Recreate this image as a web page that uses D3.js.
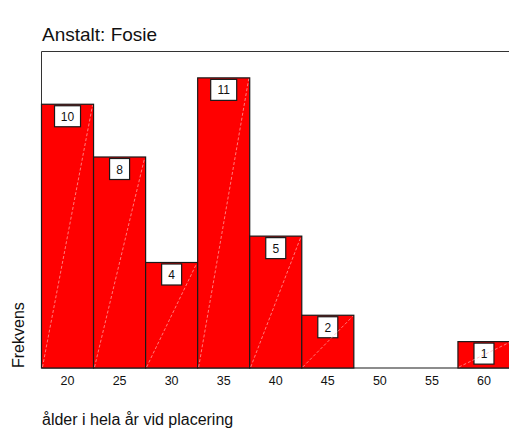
<!DOCTYPE html>
<html>
<head>
<meta charset="utf-8">
<script src="https://cdn.jsdelivr.net/npm/d3@7"></script>
<style>
    body { margin: 0; background: #fff; }
    text { font-family: Arial, "Liberation Sans", sans-serif; fill: #111; }
</style>
</head>
<body>
<svg id="chart" width="509" height="428"></svg>
<script>
// Histogram data: bin centres (ages) and frequencies
const binCenters = [20, 25, 30, 35, 40, 45, 50, 55, 60];
const counts = [10, 8, 4, 11, 5, 2, 0, 0, 1];
const tickValues = [20, 25, 30, 35, 40, 45, 50, 55, 60];
const binWidth = 5;

const svg = d3.select("#chart");

// Plot area
let plotLeft = 41.5, plotTop = 51.5, plotBottom = 368;
let x = d3.scaleLinear().domain([17.5, 62.5]).range([plotLeft, 510]);
let y = d3.scaleLinear().domain([0, 12]).range([plotBottom, plotTop]);

// Title
svg.append("text")
    .attr("x", 42)
    .attr("y", 41)
    .style("font-size", "19px")
    .text("Anstalt: Fosie");

// Frame (top and left)
svg.append("line")
    .attr("x1", plotLeft).attr("x2", 509)
    .attr("y1", plotTop).attr("y2", plotTop)
    .attr("stroke", "#333").attr("stroke-width", 1);
svg.append("line")
    .attr("x1", plotLeft).attr("x2", plotLeft)
    .attr("y1", plotTop).attr("y2", plotBottom)
    .attr("stroke", "#333").attr("stroke-width", 1);

// Baseline
svg.append("line")
    .attr("x1", plotLeft).attr("x2", 509)
    .attr("y1", plotBottom).attr("y2", plotBottom)
    .attr("stroke", "#666").attr("stroke-width", 1.5);

let data = binCenters.map((c, i) => ({ center: c, count: counts[i] }));
let nonEmpty = data.filter(d => d.count > 0);

// Bars
svg.append("g")
    .selectAll("rect")
    .data(nonEmpty)
    .enter()
    .append("rect")
    .attr("x", d => x(d.center - binWidth / 2))
    .attr("y", d => y(d.count))
    .attr("width", d => x(d.center + binWidth / 2) - x(d.center - binWidth / 2))
    .attr("height", d => plotBottom - y(d.count))
    .attr("fill", "#ff0000")
    .attr("stroke", "#1a1a1a")
    .attr("stroke-width", 1.2);

// Count labels in white boxes
let labels = svg.append("g")
    .selectAll("g")
    .data(nonEmpty)
    .enter()
    .append("g");

labels.append("rect")
    .attr("x", d => x(d.center) - (String(d.count).length > 1 ? 13 : 10))
    .attr("y", d => y(d.count) + 1.5)
    .attr("width", d => String(d.count).length > 1 ? 26 : 20)
    .attr("height", 21)
    .attr("fill", "#fff")
    .attr("stroke", "#1a1a1a")
    .attr("stroke-width", 1.2);

labels.append("text")
    .attr("x", d => x(d.center))
    .attr("y", d => y(d.count) + 16.5)
    .attr("text-anchor", "middle")
    .style("font-size", "12px")
    .text(d => d.count);

// Faint diagonal streaks across each bar
svg.append("g")
    .selectAll("line")
    .data(nonEmpty)
    .enter()
    .append("line")
    .attr("x1", d => x(d.center - binWidth / 2) + 1)
    .attr("y1", plotBottom - 1)
    .attr("x2", d => x(d.center + binWidth / 2) - 1)
    .attr("y2", d => y(d.count) + 1)
    .attr("stroke", "#ffb0b0")
    .attr("stroke-width", 0.7)
    .attr("stroke-dasharray", "3,2");

// X tick labels (no tick marks)
svg.append("g")
    .selectAll("text")
    .data(tickValues)
    .enter()
    .append("text")
    .attr("x", d => x(d))
    .attr("y", 385)
    .attr("text-anchor", "middle")
    .style("font-size", "12.5px")
    .text(d => d);

// Axis titles
svg.append("text")
    .attr("transform", `translate(24, ${plotBottom}) rotate(-90)`)
    .attr("text-anchor", "start")
    .style("font-size", "16px")
    .text("Frekvens");

svg.append("text")
    .attr("x", 42)
    .attr("y", 425)
    .style("font-size", "16px")
    .text("ålder i hela år vid placering");
</script>
</body>
</html>
